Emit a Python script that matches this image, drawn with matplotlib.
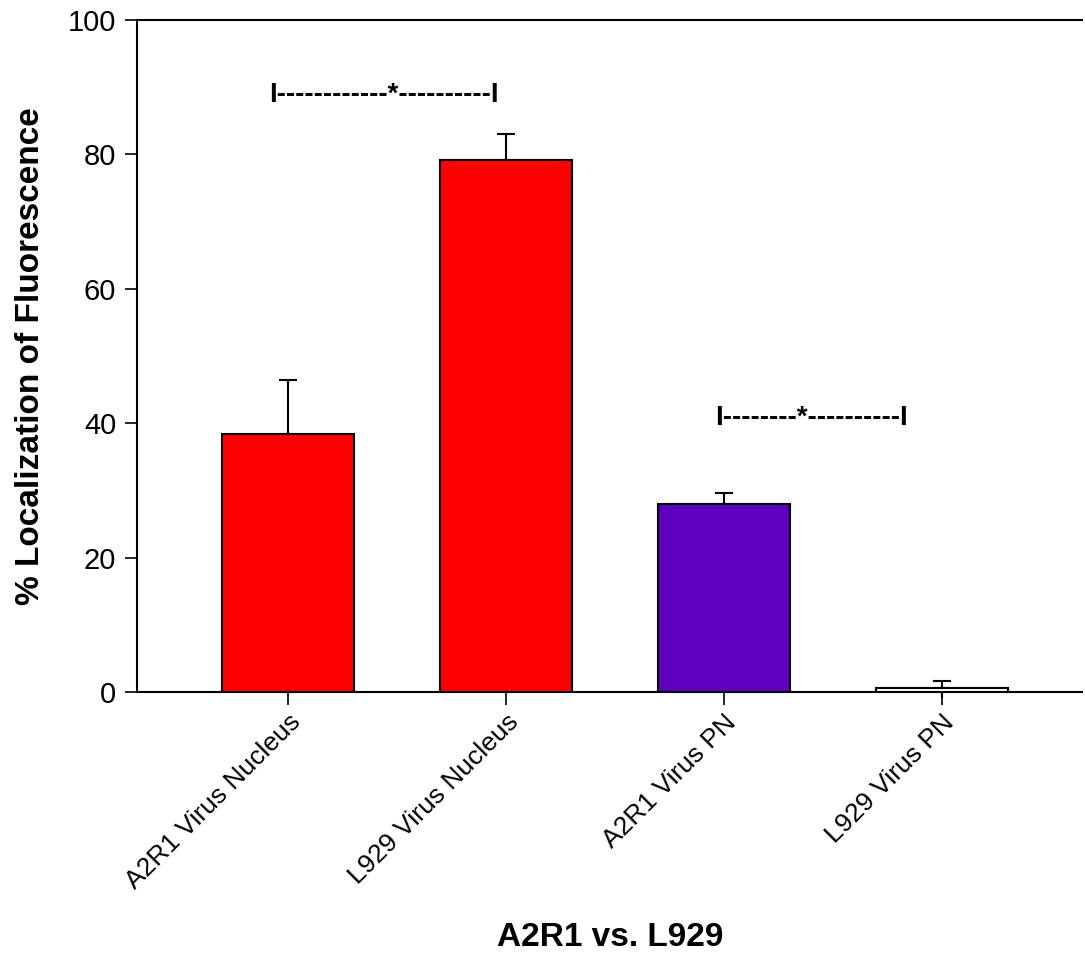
import numpy as np
import matplotlib.pyplot as plt

plt.rcParams["font.family"] = ["Liberation Sans", "DejaVu Sans"]

# ---- data ----
categories = ["A2R1 Virus Nucleus", "L929 Virus Nucleus", "A2R1 Virus PN", "L929 Virus PN"]
means = [38.4, 79.2, 28.0, 0.6]
errors = [8.0, 3.8, 1.6, 1.0]
colors = ["#ff0000", "#ff0000", "#5f00bf", "#ffffff"]
yticks = [0, 20, 40, 60, 80, 100]

fig = plt.figure(figsize=(10.85, 9.64), dpi=100)
ax = fig.add_axes([137 / 1085, 1 - 692 / 964, 945 / 1085, 672 / 964])

x = np.arange(len(categories))
m = np.array(means)
e = np.array(errors)
ax.bar(x, m, width=0.605, color=colors, edgecolor="black", linewidth=1.5, zorder=3)
# upper error with cap, lower part as plain line behind the bars
ax.errorbar(x, m, yerr=[np.zeros_like(e), e], fmt="none", ecolor="black",
            elinewidth=1.5, capsize=6.8, capthick=1.5, zorder=2)
ax.vlines(x, m - 1.5 * e, m, color="black", lw=1.5, zorder=2, clip_on=False)

ax.set_xlim(-0.693, 3.642)
ax.set_ylim(0, 100)
ax.set_yticks(yticks)
ax.set_xticks(x)
ax.set_xticklabels(categories, rotation=45, ha="right", va="top",
                   rotation_mode="anchor", fontsize=19)
ax.tick_params(axis="y", labelsize=21, direction="out", length=9, width=1.2, pad=6)
ax.tick_params(axis="x", direction="out", length=9, width=1.2, pad=4)

for s in ["left", "bottom", "top"]:
    ax.spines[s].set_linewidth(1.5)
ax.spines["right"].set_visible(False)

# significance brackets
ax.text(0.44, 88.8, "I------------*----------I", ha="center", va="center",
        fontsize=19.8, fontweight="bold")
ax.text(2.40, 40.8, "I--------*----------I", ha="center", va="center",
        fontsize=20, fontweight="bold")

ax.set_ylabel("% Localization of Fluorescence", fontsize=24, fontweight="bold", labelpad=16)
fig.text(610 / 1085, 1 - 938 / 964, "A2R1 vs. L929", ha="center", va="center",
         fontsize=24, fontweight="bold")

fig.savefig("out.png", dpi=100)
